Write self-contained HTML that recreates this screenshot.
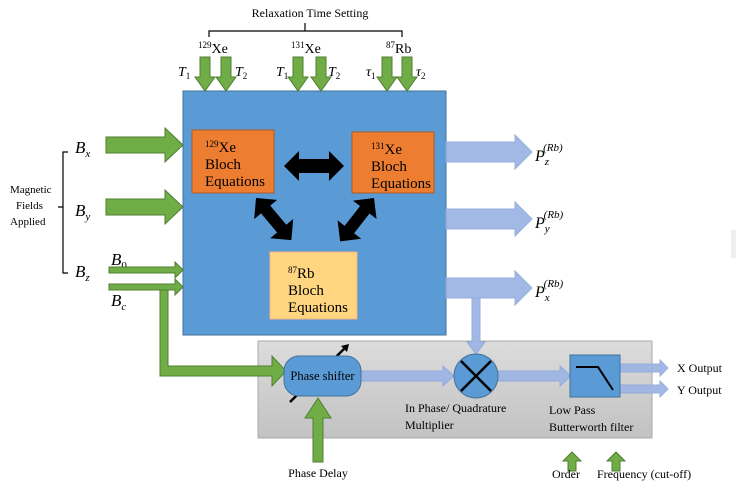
<!DOCTYPE html>
<html><head><meta charset="utf-8"><style>
html,body{margin:0;padding:0;background:#fff;}
svg{display:block;font-family:"Liberation Serif",serif;}
</style></head><body>
<svg width="736" height="491" viewBox="0 0 736 491" xmlns="http://www.w3.org/2000/svg">
<defs>
<linearGradient id="g" x1="0" y1="0" x2="0" y2="1"><stop offset="0" stop-color="#dcdcdc"/><stop offset="1" stop-color="#c2c2c2"/></linearGradient>
</defs>
<rect x="731" y="230" width="5" height="28" fill="#eee"/>
<rect x="258" y="341" width="394" height="97" fill="url(#g)" stroke="#aaa"/>
<rect x="183" y="91" width="263" height="244" fill="#5b9bd5" stroke="#41719c"/>
<text x="310" y="17" font-size="12" text-anchor="middle">Relaxation Time Setting</text>
<path d="M209 37 V31 H305 V23 M305 31 H402 V37" fill="none" stroke="#000" stroke-width="1.2"/>
<g font-size="14">
<text x="198" y="53"><tspan font-size="9" dy="-5">129</tspan><tspan dy="5">Xe</tspan></text>
<text x="291" y="53"><tspan font-size="9" dy="-5">131</tspan><tspan dy="5">Xe</tspan></text>
<text x="386" y="53"><tspan font-size="9" dy="-5">87</tspan><tspan dy="5">Rb</tspan></text>
</g>
<g font-size="14" font-style="italic">
<text x="178" y="76">T<tspan font-size="9" font-style="normal" dy="3">1</tspan></text>
<text x="235" y="76">T<tspan font-size="9" font-style="normal" dy="3">2</tspan></text>
<text x="276" y="76">T<tspan font-size="9" font-style="normal" dy="3">1</tspan></text>
<text x="328" y="76">T<tspan font-size="9" font-style="normal" dy="3">2</tspan></text>
<text x="366" y="76">τ<tspan font-size="9" font-style="normal" dy="3">1</tspan></text>
<text x="416" y="76">τ<tspan font-size="9" font-style="normal" dy="3">2</tspan></text>
</g>
<g fill="#70ad47" stroke="#507e32" stroke-width="1">
<path id="ta" d="M-5 57 H5 V77 H10 L0 91 L-10 77 H-5 Z" transform="translate(205,0)"/>
<use href="#ta" x="21"/><use href="#ta" x="93"/><use href="#ta" x="116"/><use href="#ta" x="182"/><use href="#ta" x="202"/>
</g>
<rect x="192" y="130" width="82" height="63" fill="#ed7d31" stroke="#ae5a21"/>
<rect x="352" y="132" width="82" height="61" fill="#ed7d31" stroke="#ae5a21"/>
<rect x="270" y="252" width="87" height="67" fill="#ffd67f" stroke="#f4b183"/>
<g font-size="15">
<text x="205" y="152"><tspan font-size="9" dy="-5">129</tspan><tspan dy="5">Xe</tspan></text>
<text x="205" y="169">Bloch</text><text x="205" y="186">Equations</text>
<text x="371" y="154"><tspan font-size="9" dy="-5">131</tspan><tspan dy="5">Xe</tspan></text>
<text x="371" y="171">Bloch</text><text x="371" y="188">Equations</text>
<text x="288" y="278"><tspan font-size="9" dy="-5">87</tspan><tspan dy="5">Rb</tspan></text>
<text x="288" y="295">Bloch</text><text x="288" y="312">Equations</text>
</g>
<g fill="#000">
<path d="M284 166 L299 151 V159 H329 V151 L344 166 L329 181 V173 H299 V181 Z"/>
<path d="M0 0 L15 -15 V-6 H40 V-15 L55 0 L40 15 V6 H15 V15 Z" transform="translate(256,198) rotate(50)"/>
<path d="M0 0 L15 -15 V-6 H40 V-15 L55 0 L40 15 V6 H15 V15 Z" transform="translate(374,198) rotate(128)"/>
</g>
<g font-size="11"><text x="10" y="193">Magnetic</text><text x="16" y="209">Fields</text><text x="10" y="225">Applied</text></g>
<path d="M68 152 H63 V273 H68 M63 207 H58" fill="none" stroke="#000" stroke-width="1.2"/>
<g font-size="17" font-style="italic">
<text x="75" y="153">B<tspan font-size="11" dy="4">x</tspan></text>
<text x="75" y="216">B<tspan font-size="11" dy="4">y</tspan></text>
<text x="75" y="277">B<tspan font-size="11" dy="4">z</tspan></text>
<text x="111" y="265">B<tspan font-size="11" font-style="normal" dy="4">0</tspan></text>
<text x="111" y="306">B<tspan font-size="11" dy="4">c</tspan></text>
</g>
<g fill="#70ad47" stroke="#507e32">
<path d="M106 137 H165 V128 L183 145 L165 162 V153 H106 Z"/>
<path d="M106 199 H165 V190 L183 207 L165 224 V215 H106 Z"/>
<path d="M109 267 H175 V262 L183 270 L175 278 V273 H109 Z"/>
<path d="M109 284 H175 V279 L183 287 L175 295 V290 H109 Z"/>
<path d="M160 290 H168 V366 H272 V356 L286 371 L272 386 V376 H160 Z"/>
<path d="M313 462 V418 H305 L318 398 L331 418 H323 V462 Z"/>
<path d="M568 471 V461 H563 L572 452 L581 461 H576 V471 Z"/>
<path d="M612 471 V461 H607 L616 452 L625 461 H620 V471 Z"/>
</g>
<g fill="#9fb6e4" stroke="#8faadc" opacity="0.95">
<path d="M446 142 H515 V135 L532 152 L515 169 V162 H446 Z"/>
<path d="M446 209 H515 V202 L532 219 L515 236 V229 H446 Z"/>
<path d="M446 278 H515 V271 L532 288 L515 305 V298 H446 Z"/>
<path d="M472 298 H480 V342 H485 L476 354 L467 342 H472 Z"/>
<path d="M361 371 H443 V366 L454 376 L443 386 V381 H361 Z"/>
<path d="M498 371 H560 V366 L571 376 L560 386 V381 H498 Z"/>
<path d="M620 364 H660 V360 L668 368 L660 376 V372 H620 Z"/>
<path d="M620 385 H660 V381 L668 389 L660 397 V393 H620 Z"/>
</g>
<g font-size="16" font-style="italic">
<text x="535" y="161">P<tspan font-size="11" dy="4">z</tspan><tspan font-size="11" dx="-6" dy="-14">(Rb)</tspan></text>
<text x="535" y="228">P<tspan font-size="11" dy="4">y</tspan><tspan font-size="11" dx="-6" dy="-14">(Rb)</tspan></text>
<text x="535" y="297">P<tspan font-size="11" dy="4">x</tspan><tspan font-size="11" dx="-6" dy="-14">(Rb)</tspan></text>
</g>
<line x1="290" y1="402" x2="347" y2="346" stroke="#000" stroke-width="2.5"/>
<path d="M349 344 L341 346 L347 352 Z" fill="#000"/>
<rect x="284" y="356" width="77" height="40" rx="15" fill="#5b9bd5" stroke="#41719c"/>
<text x="322.5" y="380" font-size="12.5" text-anchor="middle">Phase shifter</text>
<text x="318" y="477" font-size="12" text-anchor="middle">Phase Delay</text>
<circle cx="476" cy="376" r="22" fill="#5b9bd5" stroke="#41719c"/>
<path d="M461 361 L491 391 M491 361 L461 391" stroke="#000" stroke-width="2.5"/>
<g font-size="12"><text x="405" y="412">In Phase/ Quadrature</text><text x="405" y="429">Multiplier</text>
<text x="549" y="414">Low Pass</text><text x="549" y="431">Butterworth filter</text>
<text x="552" y="478">Order</text><text x="597" y="478">Frequency (cut-off)</text>
<text x="677" y="372">X Output</text><text x="677" y="394">Y Output</text></g>
<rect x="570" y="355" width="50" height="42" fill="#5b9bd5" stroke="#41719c"/>
<path d="M576 367 H598 L613 390" fill="none" stroke="#000" stroke-width="2"/>
</svg>
</body></html>
